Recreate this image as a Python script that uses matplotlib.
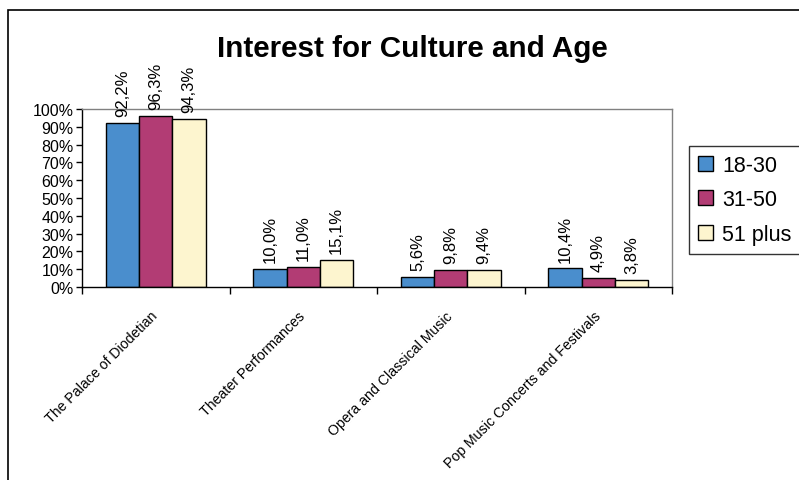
import numpy as np
import matplotlib.pyplot as plt
from matplotlib.patches import Rectangle

plt.rcParams['font.family'] = ['Liberation Sans', 'DejaVu Sans']

# data
categories = ['The Palace of Diodetian', 'Theater Performances',
              'Opera and Classical Music', 'Pop Music Concerts and Festivals']
age_groups = ['18-30', '31-50', '51 plus']
val_18_30 = [92.2, 10.0, 5.6, 10.4]
val_31_50 = [96.3, 11.0, 9.8, 4.9]
val_51_plus = [94.3, 15.1, 9.4, 3.8]
colors = ['#4a8ecd', '#b23c74', '#fdf5cf']

series = [val_18_30, val_31_50, val_51_plus]

fig = plt.figure(figsize=(7.99, 4.81), dpi=100)
ax = fig.add_axes([82 / 799, 1 - 288 / 481, 590 / 799, 178 / 481])

x = np.arange(len(categories))
w = 0.225
for i, (vals, lab, col) in enumerate(zip(series, age_groups, colors)):
    pos = x + (i - 1) * w
    ax.bar(pos, vals, w, color=col, edgecolor='black', linewidth=1, label=lab)
    for xp, v in zip(pos, vals):
        ax.annotate(f'{v:.1f}%'.replace('.', ','), (xp, v), xytext=(0, 5),
                    textcoords='offset points', rotation=90,
                    ha='center', va='bottom', fontsize=12)

ax.set_xlim(-0.5, len(categories) - 0.5)
ax.set_ylim(0, 100)
ax.set_yticks(np.arange(0, 101, 10))
ax.set_yticklabels([f'{t}%' for t in range(0, 101, 10)], fontsize=11.5)
ax.tick_params(axis='y', length=4, width=1, pad=2)

# category labels at centres, tick marks at the boundaries
ax.set_xticks(x)
ax.set_xticklabels(categories, fontsize=10.2)
ax.set_xticks(np.arange(-0.5, len(categories), 1), minor=True)
ax.tick_params(axis='x', which='major', length=0, pad=19)
ax.tick_params(axis='x', which='minor', length=5, width=1)
for lbl in ax.get_xticklabels():
    lbl.set_rotation(45)
    lbl.set_ha('right')
    lbl.set_va('center')
    lbl.set_rotation_mode('anchor')

for s in ['top', 'right']:
    ax.spines[s].set_color('#808080')
    ax.spines[s].set_linewidth(1)
for s in ['left', 'bottom']:
    ax.spines[s].set_color('black')
    ax.spines[s].set_linewidth(1)

fig.text(0.516, 1 - 57 / 481, 'Interest for Culture and Age',
         ha='center', va='baseline', fontsize=21.3, fontweight='bold')

leg = fig.legend(loc='upper left', bbox_to_anchor=(689 / 799, 1 - 147 / 481),
                 fontsize=15.5, frameon=True, fancybox=False, borderaxespad=0,
                 handlelength=0.7, handleheight=0.7, handletextpad=0.42,
                 labelspacing=0.62, borderpad=0.42)
leg.get_frame().set_edgecolor('black')
leg.get_frame().set_linewidth(1)

# outer chart border, cut off on the right and bottom like the reference
fig.patches.append(Rectangle((8 / 799, -0.1), 1.1, 1.1 - 11 / 481,
                             transform=fig.transFigure, fill=False,
                             edgecolor='black', linewidth=1.2))

fig.savefig('out.png', dpi=100)
